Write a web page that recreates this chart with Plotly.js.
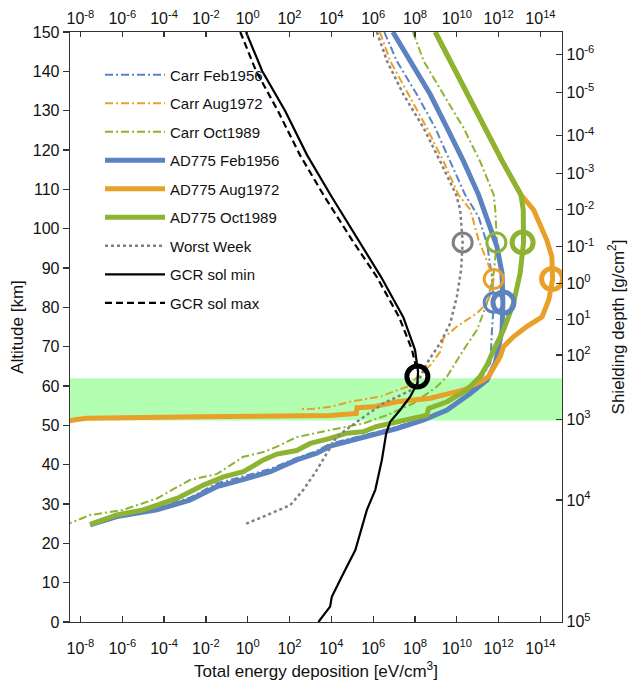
<!DOCTYPE html>
<html>
<head>
<meta charset="utf-8">
<script src="https://cdn.plot.ly/plotly-3.0.1.min.js"></script>
<style>html,body{margin:0;padding:0;background:#fff;}#chart{width:634px;height:684px;}</style>
</head>
<body>
<div id="chart"></div>
<script>
// ---- data (deposition in eV/cm^3, altitude in km) ----
const carrFeb_dep = [3.4e6, 1.35e7, 1.23e8, 9.3e8, 4.8e9, 2.5e10, 1.1e11, 2.75e11, 4.8e11, 5.8e11, 4.8e11, 4.0e11, 1.3e11, 3.5e10, 2.8e9, 2.2e8, 1.26e7, 3.3e5, 8.7e3, 2.0e3, 220, 12, 1.3, 0.033, 1.7e-3, 4.5e-5, 5.5e-7, 5.0e-8];
const carrFeb_alt = [150, 142.6, 134.1, 125.6, 117.1, 108.6, 103, 96.3, 87.8, 81.0, 74.2, 65.8, 61.5, 58.1, 53.9, 51.6, 49.6, 47.4, 45.3, 43.5, 41.7, 38.9, 37.5, 35.2, 31.6, 29.1, 27.3, 25.4];

const carrAug_dep = [2.1e6, 6.5e6, 4.9e7, 3.7e8, 2.3e9, 1.2e10, 4.4e10, 1.1e11, 2.9e11, 5.8e11, 4.8e11, 2.75e11, 9.1e10, 1.0e10, 2.3e9, 1.6e9, 5.4e8, 4.1e7, 2.1e6, 7.9e4, 8.7e3, 1.35e3, 270];
const carrAug_alt = [150, 142.6, 134.1, 125.6, 117.1, 108.6, 104.8, 97.1, 91.5, 87.1, 84.4, 81, 78.5, 75.1, 72.2, 68.7, 65.3, 59.8, 57.3, 56.0, 54.7, 54.2, 54.1];

const carrOct_dep = [8.0e7, 2.6e8, 2.3e9, 2.1e10, 1.3e11, 5.8e11, 6.9e11, 8.3e11, 5.8e11, 2.75e11, 9.1e10, 2.1e10, 3.4e9, 1.1e9, 8.5e7, 4.6e6, 3.5e5, 5.5e4, 8.7e3, 220, 25, 5.6, 0.62, 0.033, 1.7e-3, 4.5e-5, 1.1e-6, 2.9e-8, 2.5e-9];
const carrOct_alt = [150, 142.6, 134.1, 125.6, 117.1, 108.6, 104.8, 96.5, 88.7, 81.0, 74.2, 69.2, 62.4, 59.8, 55.6, 52.6, 50.5, 49.7, 48.8, 47.0, 44.6, 43.2, 42.0, 37.6, 36.1, 31.4, 28.5, 27.2, 24.9];

const adFeb_dep = [8.7e6, 5.9e7, 5.4e8, 3.4e9, 2.1e10, 1.1e11, 2.75e11, 8.3e11, 1.45e12, 1.6e12, 1.45e12, 1.0e12, 6.9e11, 2.75e11, 4.4e10, 3.4e9, 2.6e8, 1.35e7, 1.8e6, 3.5e5, 5.5e4, 8.7e3, 2.0e3, 220, 12, 1.3, 0.145, 0.033, 1.7e-3, 4.5e-5, 5.5e-7, 2.9e-8];
const adFeb_alt = [150, 142.6, 134.1, 125.6, 117.1, 108.6, 103, 95.4, 88.7, 81.2, 74.2, 69.2, 65.8, 61.5, 58.1, 53.9, 51.4, 49.2, 48.0, 47.1, 45.8, 44.7, 42.9, 41.2, 38.2, 36.9, 35.3, 34.4, 31.0, 28.5, 26.8, 24.7];

const adAug_dep = [9.3e8, 4.8e9, 3.2e10, 2.0e11, 1.5e12, 1.17e13, 4.7e13, 2.0e14, 3.5e14, 3.8e14, 2.5e14, 1.2e14, 2.2e13, 5.1e12, 1.7e12, 1.2e12, 5.8e11, 3.3e11, 1.9e11, 2.1e10, 5.4e8, 1.35e7, 1.0e6, 1.7e5, 1.55e5, 8.7e3, 5.2e-3, 2.0e-8, 5.5e-9, 2.5e-9];
const adAug_alt = [150, 142.6, 134.1, 125.6, 117.1, 108.6, 104.8, 97.1, 92.9, 87.1, 81.9, 77.6, 75.1, 72.5, 70.0, 67.5, 64.9, 62.4, 61.5, 59.0, 56.9, 56.0, 54.7, 54.5, 53.0, 52.5, 52.2, 51.8, 51.4, 51.1];

const adOct_dep = [9.3e8, 4.8e9, 3.2e10, 2.0e11, 1.5e12, 1.17e13, 1.5e13, 1.55e13, 1.07e13, 5.1e12, 1.7e12, 5.8e11, 2.75e11, 1.3e11, 3.0e10, 3.4e9, 4.5e8, 3.7e8, 1.35e7, 1.5e6, 3.5e5, 5.5e4, 8.7e3, 980, 220, 25, 5.6, 0.62, 0.069, 7.6e-3, 4.1e-4, 9.3e-5, 1.0e-5, 5.5e-7, 2.9e-8];
const adOct_alt = [150, 142.6, 134.1, 125.6, 117.1, 108.6, 104.8, 96.5, 88.7, 81.0, 74.2, 69.2, 65.3, 62.4, 59.0, 56.0, 54.3, 52.6, 50.9, 49.7, 48.4, 48.0, 46.7, 45.4, 43.6, 42.7, 41.2, 38.2, 36.9, 34.8, 31.4, 30.2, 28.5, 27.2, 24.8];

const worst_dep = [1.5e6, 4.6e6, 2.8e7, 2.6e8, 1.6e9, 9.3e9, 1.45e10, 1.9e10, 1.6e10, 1.0e10, 4.8e9, 1.6e9, 3.7e8, 1.0e8, 3.1e6, 1.66e5, 1.8e4, 6.0e3, 2.0e3, 460, 107, 5.6, 0.76];
const worst_alt = [150, 142.6, 134.1, 125.6, 117.1, 108.6, 104.8, 96.5, 89.5, 82.7, 75.9, 70.9, 65.8, 59.4, 55.6, 50.9, 47.1, 42.9, 38.6, 33.6, 29.7, 26.8, 24.9];

const gcrMin_dep = [0.83, 4.9, 62, 690, 9.8e3, 1.9e5, 2.4e6, 2.75e7, 1.0e8, 1.4e8, 1.3e8, 5.9e7, 1.95e7, 6.5e6, 4.2e6, 2.6e6, 1.26e6, 5.0e5, 1.4e5, 3.8e4, 1.05e4, 8.7e3, 2.4e3];
const gcrMin_alt = [150, 140.1, 129.9, 118.7, 108.3, 97.1, 87.7, 77.5, 69.2, 63.6, 60.7, 57.3, 53.9, 50.9, 48.0, 41.2, 33.6, 28.5, 18.3, 12.4, 6.4, 3.9, 0];

const gcrMax_dep = [0.44, 2.5, 28, 316, 4.5e3, 9.8e4, 1.5e6, 1.74e7, 7.2e7, 1.26e8];
const gcrMax_alt = [150, 140.1, 129.9, 118.7, 108.3, 97.1, 87.7, 77.5, 69.2, 63.6];

// peak markers (thin: Carr / worst week, thick: AD775 / GCR)
const peakThin_dep = [1.9e10, 7.8e11, 5.8e11, 5.8e11];
const peakThin_alt = [96.5, 96.5, 87.2, 81.2];
const peakThick_dep = [1.3e8, 1.4e13, 3.6e14, 1.7e12];
const peakThick_alt = [62.4, 96.5, 87.2, 81.2];

// highlighted altitude band
const band_alt = [51.2, 62.0];

// tick labels
const energyTickVals = [1e-8, 1e-6, 1e-4, 1e-2, 1e0, 1e2, 1e4, 1e6, 1e8, 1e10, 1e12, 1e14];
const energyTickText = ['10<sup>-8</sup>', '10<sup>-6</sup>', '10<sup>-4</sup>', '10<sup>-2</sup>', '10<sup>0</sup>', '10<sup>2</sup>', '10<sup>4</sup>', '10<sup>6</sup>', '10<sup>8</sup>', '10<sup>10</sup>', '10<sup>12</sup>', '10<sup>14</sup>'];
const altTickVals = [0, 10, 20, 30, 40, 50, 60, 70, 80, 90, 100, 110, 120, 130, 140, 150];
const depthTickAlt = [144.3, 134.7, 123.6, 114.1, 104.8, 95.4, 86.1, 77.0, 67.9, 51.5, 31.0, 0.1];
const depthTickText = ['10<sup>-6</sup>', '10<sup>-5</sup>', '10<sup>-4</sup>', '10<sup>-3</sup>', '10<sup>-2</sup>', '10<sup>-1</sup>', '10<sup>0</sup>', '10<sup>1</sup>', '10<sup>2</sup>', '10<sup>3</sup>', '10<sup>4</sup>', '10<sup>5</sup>'];

// ---- styles ----
const BLUE = 'rgb(92,130,192)';
const ORANGE = 'rgb(232,160,40)';
const GREEN = 'rgb(140,180,50)';
const GREY = 'rgb(128,128,128)';
const BLACK = 'rgb(0,0,0)';
const DASHDOT = '8px,3px,2px,3px';
const FONT = 'Arial, "Liberation Sans", sans-serif';

function tr(name, x, y, color, width, dash, group) {
  return {x: x, y: y, name: name, type: 'scatter', mode: 'lines', legendgroup: group,
          line: {color: color, width: width, dash: dash}, hoverinfo: 'skip'};
}

const traces = [
  tr('Carr Feb1956', carrFeb_dep, carrFeb_alt, BLUE, 2, DASHDOT, 'g1'),
  tr('Carr Aug1972', carrAug_dep, carrAug_alt, ORANGE, 2, DASHDOT, 'g2'),
  tr('Carr Oct1989', carrOct_dep, carrOct_alt, GREEN, 2, DASHDOT, 'g3'),
  tr('AD775 Feb1956', adFeb_dep, adFeb_alt, BLUE, 5, 'solid', 'g4'),
  tr('AD775 Aug1972', adAug_dep, adAug_alt, ORANGE, 5, 'solid', 'g5'),
  tr('AD775 Oct1989', adOct_dep, adOct_alt, GREEN, 5, 'solid', 'g6'),
  tr('Worst Week', worst_dep, worst_alt, GREY, 2.5, '3px,3px', 'g7'),
  tr('GCR sol min', gcrMin_dep, gcrMin_alt, BLACK, 2.2, 'solid', 'g8'),
  tr('GCR sol max', gcrMax_dep, gcrMax_alt, BLACK, 2.2, '7px,4px', 'g9'),
  {x: peakThin_dep, y: peakThin_alt, type: 'scatter', mode: 'markers', showlegend: false, hoverinfo: 'skip',
   marker: {symbol: 'circle-open', size: 19, color: [GREY, GREEN, ORANGE, BLUE], line: {width: 3}}},
  {x: peakThick_dep, y: peakThick_alt, type: 'scatter', mode: 'markers', showlegend: false, hoverinfo: 'skip',
   marker: {symbol: 'circle-open', size: 21, color: [BLACK, GREEN, ORANGE, BLUE], line: {width: 5}}},
  {x: [], y: [], xaxis: 'x2', yaxis: 'y2', type: 'scatter', showlegend: false, hoverinfo: 'skip'},
  {x: [], y: [], xaxis: 'x3', yaxis: 'y', type: 'scatter', showlegend: false, hoverinfo: 'skip'}
];

const axisCommon = {showgrid: false, zeroline: false, showline: true, linecolor: '#333', linewidth: 1.3,
                    tickcolor: '#333', tickwidth: 1.2, tickfont: {family: FONT, size: 16, color: '#111'}};

const layout = {
  width: 634, height: 684,
  margin: {l: 70, r: 72, t: 32, b: 62},
  paper_bgcolor: '#fff', plot_bgcolor: '#fff',
  font: {family: FONT, size: 15, color: '#111'},
  showlegend: true,
  legend: {x: 0.061, y: 0.955, xanchor: 'left', yanchor: 'top', bgcolor: 'rgba(0,0,0,0)',
           font: {family: FONT, size: 15, color: '#111'}, tracegroupgap: 6, itemwidth: 60},
  // bottom axis: labels + title
  xaxis: Object.assign({}, axisCommon, {type: 'log', range: [-8.5, 15.03], tickmode: 'array',
           tickvals: energyTickVals, ticktext: energyTickText, ticks: '', ticklabelstandoff: 11,
           title: {text: 'Total energy deposition [eV/cm<sup>3</sup>]', font: {family: FONT, size: 17, color: '#111'}, standoff: 9}}),
  // bottom axis: inside tick marks only
  xaxis3: Object.assign({}, axisCommon, {type: 'log', range: [-8.5, 15.03], overlaying: 'x', side: 'bottom', anchor: 'y',
           tickmode: 'array', tickvals: energyTickVals, ticks: 'inside', ticklen: 6, showticklabels: false}),
  xaxis2: Object.assign({}, axisCommon, {type: 'log', range: [-8.5, 15.03], overlaying: 'x', side: 'top', anchor: 'y',
           tickmode: 'array', tickvals: energyTickVals, ticktext: energyTickText, ticks: 'inside', ticklen: 5}),
  yaxis: Object.assign({}, axisCommon, {range: [0, 150], tickmode: 'array', tickvals: altTickVals,
           ticks: 'outside', ticklen: 6, tickfont: {family: FONT, size: 16, color: '#111'},
           title: {text: 'Altitude [km]', font: {family: FONT, size: 17, color: '#111'}, standoff: 4}}),
  yaxis2: Object.assign({}, axisCommon, {range: [0, 150], overlaying: 'y', side: 'right', anchor: 'x',
           tickmode: 'array', tickvals: depthTickAlt, ticktext: depthTickText, ticks: 'inside', ticklen: 6,
           title: {text: 'Shielding depth [g/cm<sup>2</sup>]', font: {family: FONT, size: 17, color: '#111'}, standoff: 18}}),
  shapes: [{type: 'rect', xref: 'paper', x0: 0, x1: 1, yref: 'y', y0: band_alt[0], y1: band_alt[1],
            fillcolor: 'rgb(178,255,178)', line: {width: 0}, layer: 'below'}]
};

Plotly.newPlot('chart', traces, layout, {displayModeBar: false, staticPlot: true});
</script>
</body>
</html>
